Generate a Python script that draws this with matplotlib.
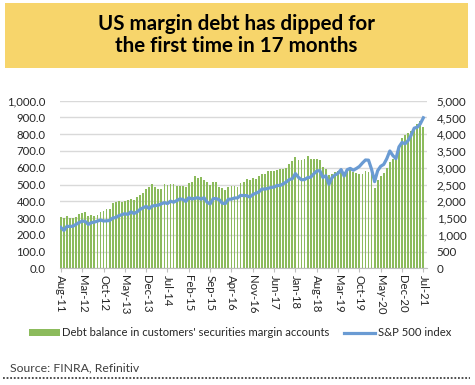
import matplotlib
matplotlib.use("Agg")
import matplotlib.pyplot as plt
import matplotlib.patches as mpatches
from matplotlib.lines import Line2D
import numpy as np

plt.rcParams['font.family'] = ['Lato', 'DejaVu Sans']

# ---- data ----
months = ["Jan", "Feb", "Mar", "Apr", "May", "Jun", "Jul", "Aug", "Sep", "Oct", "Nov", "Dec"]
categories = []
for i in range(120):
    m = (7 + i) % 12
    y = 11 + (7 + i) // 12
    categories.append(f"{months[m]}-{y:02d}")

margin_debt = [
    308, 298, 314, 302, 302, 308, 322, 330, 336, 314, 316, 312,
    318, 338, 342, 352, 354, 388, 398, 404, 398, 404, 408, 412,
    408, 428, 438, 452, 472, 485, 501, 483, 475, 475, 501, 499,
    501, 503, 493, 493, 493, 483, 507, 517, 549, 539, 547, 527,
    513, 497, 513, 513, 487, 477, 467, 483, 493, 489, 487, 511,
    512, 530, 525, 540, 535, 550, 560, 565, 580, 578, 580, 585,
    590, 595, 600, 620, 640, 665, 645, 645, 650, 668, 650, 650,
    652, 645, 605, 595, 555, 565, 575, 580, 590, 575, 580, 590,
    575, 570, 560, 560, 580, 575, 560, 480, 525, 550, 570, 600,
    635, 655, 665, 720, 775, 795, 810, 820, 845, 860, 880, 845,
]

sp500 = [
    1219, 1131, 1253, 1247, 1258,
    1312, 1366, 1408, 1398, 1310, 1362, 1379, 1407, 1441, 1412, 1416, 1426,
    1498, 1515, 1569, 1598, 1631, 1606, 1686, 1633, 1682, 1757, 1806, 1848,
    1783, 1859, 1872, 1884, 1924, 1960, 1931, 2003, 1972, 2018, 2068, 2059,
    1995, 2105, 2068, 2086, 2107, 2063, 2104, 1972, 1920, 2079, 2080, 2044,
    1940, 1932, 2060, 2065, 2097, 2099, 2174, 2171, 2168, 2126, 2199, 2239,
    2279, 2364, 2363, 2384, 2412, 2423, 2470, 2472, 2519, 2575, 2648, 2674,
    2824, 2714, 2641, 2648, 2705, 2718, 2816, 2902, 2914, 2712, 2760, 2507,
    2704, 2784, 2834, 2946, 2752, 2942, 2980, 2926, 2977, 3038, 3141, 3231,
    3226, 2954, 2585, 2912, 3044, 3100, 3271, 3500, 3363, 3270, 3622, 3756,
    3714, 3811, 3973, 4181, 4210, 4310, 4490,
]

left_ticks = [0, 100, 200, 300, 400, 500, 600, 700, 800, 900, 1000]
right_ticks = [0, 500, 1000, 1500, 2000, 2500, 3000, 3500, 4000, 4500, 5000]

# ---- figure ----
fig = plt.figure(figsize=(4.75, 3.85), dpi=100)
W, H = 475, 385

# title box
fig.patches.append(mpatches.Rectangle((5 / W, 1 - 68 / H), 463 / W, 65 / H,
                                      transform=fig.transFigure, facecolor='#F7D56B',
                                      edgecolor='none', zorder=0))
fig.text(236 / W, 1 - 35 / H, "US margin debt has dipped for\nthe first time in 17 months",
         ha='center', va='center', fontsize=14.8, fontweight='bold', color='black',
         linespacing=1.1)

ax = fig.add_axes([59.5 / W, 1 - 268.3 / H, (427 - 59.5) / W, 167.6 / H])
x = np.arange(len(categories))
ax.bar(x, margin_debt, width=0.6, color='#8CBB5C', zorder=2)
ax.set_ylim(0, 1000)
ax.set_yticks(left_ticks)
ax.set_yticklabels([f"{v:,.1f}" for v in left_ticks])
ax.set_xlim(-0.45, 120.2)
ax.set_xticks(x[::7])
ax.set_xticklabels(categories[::7], rotation=-90)
ax.grid(axis='y', color='#D9D9D9', linewidth=1, zorder=0)
ax.set_axisbelow(True)
for s in ['top', 'right', 'left']:
    ax.spines[s].set_visible(False)
ax.spines['bottom'].set_color('#BFBFBF')
ax.tick_params(axis='y', length=0, labelsize=8.2, colors='#262626', pad=10)
ax.tick_params(axis='x', length=3, color='#BFBFBF', labelsize=8.2, colors='#262626', pad=2)

ax2 = ax.twinx()
ax2.plot(x, sp500, color='#6A9BD3', linewidth=2.3, zorder=3)
ax2.set_ylim(0, 5000)
ax2.set_yticks(right_ticks)
ax2.set_yticklabels([f"{v:,}" for v in right_ticks])
for s in ['top', 'right', 'left', 'bottom']:
    ax2.spines[s].set_visible(False)
ax2.tick_params(axis='y', length=0, labelsize=8.4, colors='#262626', pad=7)

# legend
handles = [mpatches.Patch(facecolor='#8CBB5C', edgecolor='none'),
           Line2D([0], [0], color='#6A9BD3', linewidth=2.3)]
labels = ["Debt balance in customers' securities margin accounts", "S&P 500 index"]
fig.legend(handles, labels, loc='center', bbox_to_anchor=(240 / W, 1 - 333 / H), ncol=2,
           frameon=False, fontsize=8.1, handlelength=2.7, handleheight=0.6,
           handletextpad=0.25, columnspacing=1.3, labelcolor='#262626')

# source
fig.text(10 / W, 1 - 368 / H, "Source: FINRA, Refinitiv", ha='left', va='center',
         fontsize=8.8, color='#404040')
fig.lines.append(Line2D([3 / W, 470 / W], [1 - 378 / H, 1 - 378 / H], transform=fig.transFigure,
                        color='#404040', linewidth=1.3, linestyle=(0, (1, 1))))

fig.savefig("out.png", dpi=100)
